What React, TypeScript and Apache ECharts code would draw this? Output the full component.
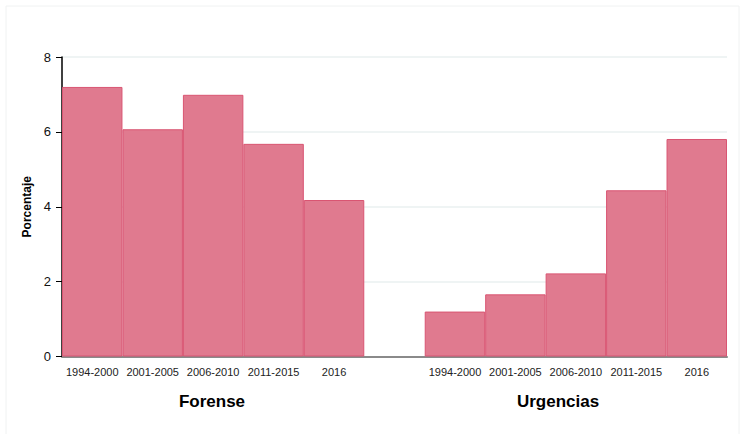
import React, { useEffect, useRef } from "react";
import * as echarts from "echarts";

const periods = ["1994-2000", "2001-2005", "2006-2010", "2011-2015", "2016"];
const groups = ["Forense", "Urgencias"];
const forense = [7.2, 6.07, 6.99, 5.68, 4.18];
const urgencias = [1.2, 1.66, 2.22, 4.44, 5.81];
const yTicks = [0, 2, 4, 6, 8];

export default function App() {
  const ref = useRef<HTMLDivElement>(null);
  useEffect(() => {
    if (!ref.current) return;
    const chart = echarts.init(ref.current, null, { renderer: "svg" });
    const categories = [...periods, "", ...periods];
    const values: (number | null)[] = [...forense, null, ...urgencias];
    chart.setOption({
      animation: false,
      backgroundColor: "#ffffff",
      grid: { left: 62, right: 20, top: 57, bottom: 77.5 },
      graphic: [
        {
          type: "rect",
          shape: { x: 6, y: 6, width: 733, height: 450 },
          style: { fill: "none", stroke: "#f0f2f2", lineWidth: 1 },
          silent: true,
        },
        {
          type: "text",
          x: 212,
          y: 401,
          style: {
            text: groups[0],
            font: "bold 17px 'Liberation Sans', Arial, sans-serif",
            fill: "#000",
            textAlign: "center",
            textVerticalAlign: "middle",
          },
        },
        {
          type: "text",
          x: 558,
          y: 401,
          style: {
            text: groups[1],
            font: "bold 17px 'Liberation Sans', Arial, sans-serif",
            fill: "#000",
            textAlign: "center",
            textVerticalAlign: "middle",
          },
        },
      ],
      xAxis: {
        type: "category",
        data: categories,
        boundaryGap: true,
        axisLine: { lineStyle: { color: "#8a8a8a", width: 2 } },
        axisTick: {
          alignWithLabel: true,
          length: 6,
          interval: (_i: number, v: string) => v !== "",
          lineStyle: { color: "#222", width: 1 },
        },
        axisLabel: {
          interval: 0,
          margin: 10,
          fontSize: 11,
          color: "#222",
          fontFamily: "'Liberation Sans', Arial, sans-serif",
        },
      },
      yAxis: {
        type: "value",
        min: yTicks[0],
        max: yTicks[yTicks.length - 1],
        interval: 2,
        name: "Porcentaje",
        nameLocation: "middle",
        nameGap: 29,
        nameTextStyle: {
          fontSize: 12,
          fontWeight: "bold",
          color: "#000",
          fontFamily: "'Liberation Sans', Arial, sans-serif",
        },
        axisLine: { show: true, lineStyle: { color: "#000", width: 1.5 } },
        axisTick: { show: true, length: 6, lineStyle: { color: "#000" } },
        axisLabel: {
          margin: 11,
          fontSize: 13,
          color: "#111",
          fontFamily: "'Liberation Sans', Arial, sans-serif",
        },
        splitLine: { lineStyle: { color: "#eaf0f0", width: 1.5 } },
      },
      series: [
        {
          type: "bar",
          data: values,
          barCategoryGap: "0%",
          itemStyle: {
            color: "#e07a8f",
            borderColor: "#d95572",
            borderWidth: 1,
          },
        },
      ],
    });
    return () => chart.dispose();
  }, []);
  return <div ref={ref} style={{ width: 747, height: 434, position: "absolute", left: 0, top: 0 }} />;
}
